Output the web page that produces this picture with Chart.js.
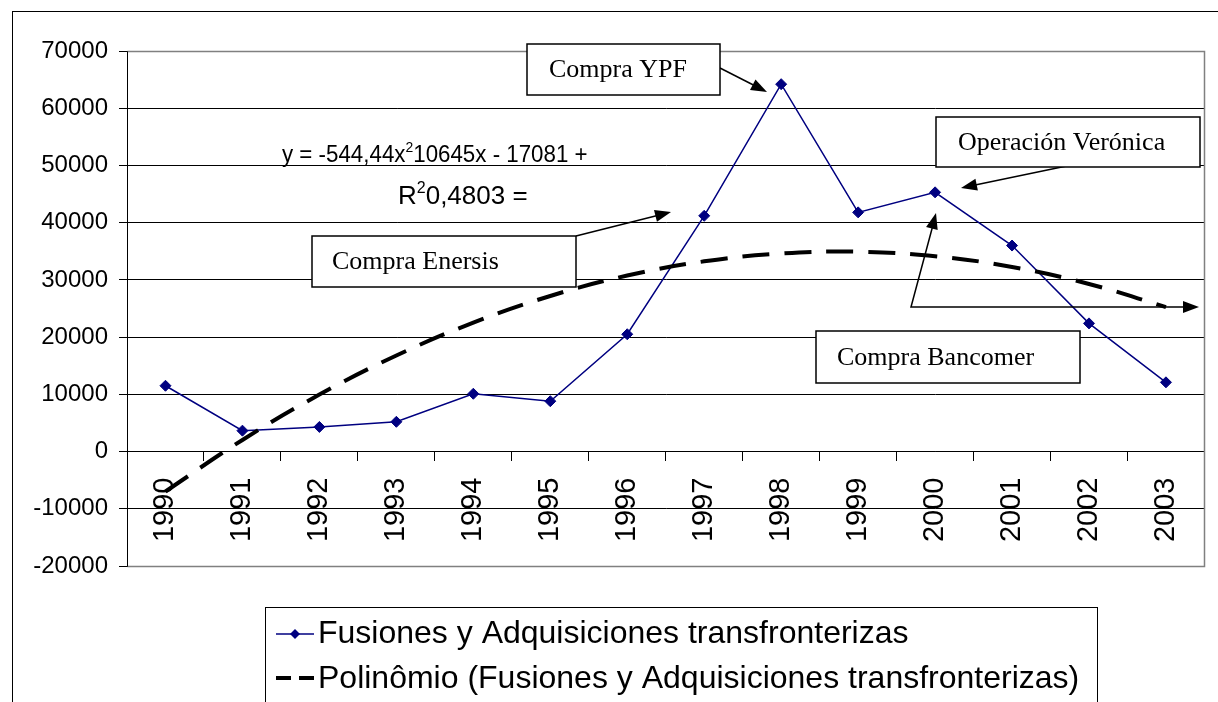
<!DOCTYPE html>
<html>
<head>
<meta charset="utf-8">
<script src="https://cdn.jsdelivr.net/npm/chart.js@4/dist/chart.umd.min.js"></script>
<style>
  html, body { margin: 0; padding: 0; background: #fff; }
  canvas { display: block; }
</style>
</head>
<body>
<canvas id="chart" width="1218" height="702"></canvas>
<script>
/* ── Data ─────────────────────────────────────────────── */

var years = ['1990','1991','1992','1993','1994','1995','1996',
             '1997','1998','1999','2000','2001','2002','2003'];

var fusiones = [11500, 3650, 4300, 5200, 10100, 8800, 20500,
                41200, 64200, 41800, 45300, 36000, 22400, 12100];

var tendencia = [-6980, 2030, 9950, 16790, 22530, 27190, 30760,
                 33240, 34620, 34930, 34140, 32260, 29290, 25240];

var yTicks = [-20000, -10000, 0, 10000, 20000, 30000, 40000, 50000, 60000, 70000];

var seriesName = 'Fusiones y Adquisiciones transfronterizas';
var trendName  = 'Polinômio (Fusiones y Adquisiciones transfronterizas)';

var navy = '#000080';
var sans = '"Liberation Sans", Arial, sans-serif';
var serif = '"Liberation Serif", "Times New Roman", serif';

/* ── Drawing helpers ──────────────────────────────────── */

function arrowHead(ctx, x1, y1, x2, y2) {
  var a = Math.atan2(y2 - y1, x2 - x1);
  var len = 16, half = 6;
  ctx.beginPath();
  ctx.moveTo(x2, y2);
  ctx.lineTo(x2 - len * Math.cos(a) + half * Math.sin(a), y2 - len * Math.sin(a) - half * Math.cos(a));
  ctx.lineTo(x2 - len * Math.cos(a) - half * Math.sin(a), y2 - len * Math.sin(a) + half * Math.cos(a));
  ctx.closePath();
  ctx.fill();
}

function arrow(ctx, x1, y1, x2, y2) {
  var a = Math.atan2(y2 - y1, x2 - x1);
  ctx.beginPath();
  ctx.moveTo(x1, y1);
  ctx.lineTo(x2 - 12 * Math.cos(a), y2 - 12 * Math.sin(a));
  ctx.stroke();
  arrowHead(ctx, x1, y1, x2, y2);
}

function labelBox(ctx, x, y, w, h, text, tx) {
  ctx.fillStyle = '#fff';
  ctx.fillRect(x, y, w, h);
  ctx.strokeStyle = '#000';
  ctx.lineWidth = 1.5;
  ctx.strokeRect(x, y, w, h);
  ctx.fillStyle = '#000';
  ctx.font = '26px ' + serif;
  ctx.textAlign = 'left';
  ctx.textBaseline = 'middle';
  ctx.fillText(text, tx, y + h / 2 + 1);
}

/* text pieces with superscripts: [text, isSup]; sx squeezes horizontally */
function richText(ctx, x, y, parts, size, sx) {
  ctx.save();
  ctx.translate(x, y);
  ctx.scale(sx, 1);
  ctx.textAlign = 'left';
  ctx.textBaseline = 'alphabetic';
  var cx = 0;
  parts.forEach(function (p) {
    if (p[1]) {
      ctx.font = Math.round(size * 0.62) + 'px ' + sans;
      ctx.fillText(p[0], cx, -size * 0.42);
    } else {
      ctx.font = size + 'px ' + sans;
      ctx.fillText(p[0], cx, 0);
    }
    cx += ctx.measureText(p[0]).width;
  });
  ctx.restore();
}

/* ── Plot frame, annotations and legend ───────────────── */

var framePlugin = {
  id: 'frame',
  beforeDraw: function (chart) {
    var ctx = chart.ctx;
    ctx.save();
    ctx.strokeStyle = '#000';
    ctx.lineWidth = 1;
    ctx.strokeRect(12.5, 11.5, 1400, 1000);
    ctx.restore();
  },
  beforeDatasetsDraw: function (chart) {
    var ctx = chart.ctx, a = chart.chartArea;
    var l = Math.round(a.left) + 0.5, t = Math.round(a.top) + 0.5;
    var r = Math.round(a.right) + 0.5, b = Math.round(a.bottom) + 0.5;
    ctx.save();
    ctx.strokeStyle = '#808080';
    ctx.lineWidth = 1.5;
    ctx.beginPath();
    ctx.moveTo(l, t); ctx.lineTo(r, t); ctx.lineTo(r, b); ctx.lineTo(l, b);
    ctx.stroke();
    ctx.strokeStyle = '#000';
    ctx.lineWidth = 1;
    ctx.beginPath();
    ctx.moveTo(l, t); ctx.lineTo(l, b);
    ctx.stroke();
    ctx.restore();
  },
  afterDraw: function (chart) {
    var ctx = chart.ctx;
    ctx.save();

    /* equation of the trend line */
    ctx.fillStyle = '#000';
    richText(ctx, 282, 162, [['y = -544,44x', false], ['2', true], ['10645x - 17081 +', false]], 24, 0.93);
    richText(ctx, 398, 204, [['R', false], ['2', true], ['0,4803 =', false]], 26, 1);

    /* arrows */
    ctx.strokeStyle = '#000';
    ctx.fillStyle = '#000';
    ctx.lineWidth = 1.5;
    arrow(ctx, 720, 68, 767, 92);
    arrow(ctx, 1081, 163, 961, 188);
    arrow(ctx, 576, 236, 671, 212);
    ctx.beginPath();
    ctx.moveTo(1188, 307);
    ctx.lineTo(911, 307);
    ctx.lineTo(933, 225);
    ctx.stroke();
    arrowHead(ctx, 911, 307, 1199, 307);
    arrowHead(ctx, 911, 307, 936, 213);

    /* callout boxes */
    labelBox(ctx, 527, 44, 193, 51, 'Compra YPF', 549);
    labelBox(ctx, 936, 117, 264, 50, 'Operación Verónica', 958);
    labelBox(ctx, 312, 236, 264, 51, 'Compra Enersis', 332);
    labelBox(ctx, 816, 331, 264, 52, 'Compra Bancomer', 837);

    /* legend */
    ctx.fillStyle = '#fff';
    ctx.fillRect(265, 607, 832, 110);
    ctx.strokeStyle = '#000';
    ctx.lineWidth = 1;
    ctx.strokeRect(265.5, 607.5, 832, 110);

    ctx.strokeStyle = navy;
    ctx.lineWidth = 1.5;
    ctx.beginPath();
    ctx.moveTo(276, 634); ctx.lineTo(314, 634);
    ctx.stroke();
    ctx.fillStyle = navy;
    ctx.beginPath();
    ctx.moveTo(295, 629); ctx.lineTo(300, 634); ctx.lineTo(295, 639); ctx.lineTo(290, 634);
    ctx.closePath();
    ctx.fill();

    ctx.strokeStyle = '#000';
    ctx.lineWidth = 4;
    ctx.beginPath();
    ctx.moveTo(276, 678); ctx.lineTo(291, 678);
    ctx.moveTo(299, 678); ctx.lineTo(314, 678);
    ctx.stroke();

    ctx.fillStyle = '#000';
    ctx.font = '32px ' + sans;
    ctx.textAlign = 'left';
    ctx.textBaseline = 'middle';
    ctx.fillText(seriesName, 318, 634);
    ctx.fillText(trendName, 318, 679);

    ctx.restore();
  }
};

/* ── Chart ────────────────────────────────────────────── */

new Chart(document.getElementById('chart'), {
  type: 'line',
  data: {
    labels: years,
    datasets: [
      {
        label: trendName,
        data: tendencia,
        order: 0,
        borderColor: '#000',
        borderWidth: 4,
        borderDash: [27, 15],
        tension: 0.4,
        pointRadius: 0,
        fill: false
      },
      {
        label: seriesName,
        data: fusiones,
        order: 1,
        borderColor: navy,
        borderWidth: 1.5,
        pointStyle: 'rectRot',
        pointRadius: 5.5,
        pointBackgroundColor: navy,
        pointBorderColor: navy,
        pointBorderWidth: 1,
        tension: 0,
        fill: false
      }
    ]
  },
  options: {
    responsive: false,
    animation: false,
    layout: { padding: { top: 51, right: 5, bottom: 136, left: 0 } },
    plugins: {
      legend: { display: false },
      tooltip: { enabled: false }
    },
    scales: {
      x: {
        type: 'category',
        position: { y: 0 },
        offset: true,
        afterFit: function (s) { s.height = 0; },
        grid: {
          offset: true,
          drawOnChartArea: false,
          drawTicks: true,
          tickLength: 9,
          tickColor: '#000',
          tickWidth: 1
        },
        border: { color: '#000', width: 1 },
        ticks: {
          autoSkip: false,
          minRotation: 90,
          maxRotation: 90,
          padding: 17,
          color: '#000',
          font: { family: sans, size: 29 }
        }
      },
      y: {
        min: -20000,
        max: 70000,
        afterFit: function (s) { s.width = 127; },
        afterBuildTicks: function (s) {
          s.ticks = yTicks.map(function (v) { return { value: v }; });
        },
        grid: {
          color: '#000',
          lineWidth: 1,
          tickLength: 8,
          tickColor: '#000'
        },
        border: { color: '#000', width: 1 },
        ticks: {
          padding: 11,
          color: '#000',
          font: { family: sans, size: 24 },
          callback: function (v) { return String(v); }
        }
      }
    }
  },
  plugins: [framePlugin]
});
</script>
</body>
</html>
